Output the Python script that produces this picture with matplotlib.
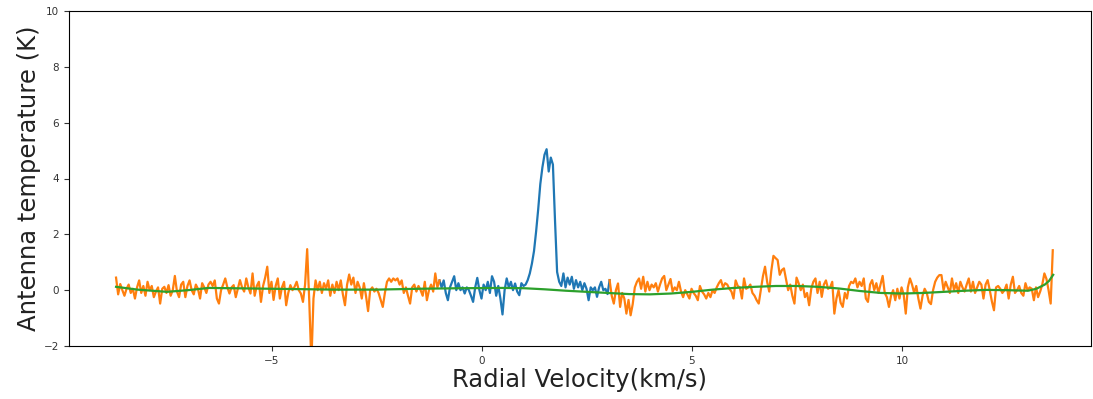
"""
Spectrum plot: antenna temperature against radial velocity,
line window in blue, off-line channels in orange, baseline fit in green.
"""

import numpy as np
import matplotlib
matplotlib.use('Agg')
import matplotlib.pyplot as plt

# Channel data, 0.05 km/s spacing
# left off-line part, -8.71 .. -1.01 km/s
orange_left_v = (-8.71, -1.01)
orange_left_K = [
    0.45, -0.15, 0.22, 0.0, -0.2, 0.05, 0.2, -0.1, 0.05, -0.3,
    0.1, 0.35, -0.1, 0.15, -0.2, 0.3, 0.0, 0.15, -0.25, -0.05,
    0.1, -0.48, 0.05, 0.12, -0.1, 0.18, -0.2, 0.0, 0.51, -0.05,
    -0.25, 0.2, 0.3, -0.25, 0.15, 0.35, 0.0, -0.15, 0.2, 0.05,
    -0.3, 0.25, 0.1, -0.1, 0.2,
    0.3, 0.15, 0.35, -0.3, -0.48, 0.0, 0.2, 0.42, 0.1, -0.12,
    0.1, 0.18, -0.25, 0.05, 0.36, 0.1, -0.05, 0.42, 0.1, -0.12,
    0.6, -0.2, 0.15, 0.3, -0.42, 0.15, 0.45, 0.84, -0.1, 0.3,
    -0.35, 0.15, 0.42, -0.3, 0.1, 0.3, -0.54, -0.1, 0.18, 0.0,
    0.12, 0.3, 0.0, -0.12, -0.42, 0.2, 1.47, -0.4, -2.6,
    -0.3, 0.35, 0.0, 0.3, -0.1, 0.25, 0.05, 0.35, -0.2, 0.2,
    -0.1, 0.3, 0.0, 0.35, -0.15, -0.54, 0.2, 0.56, 0.2, 0.45,
    -0.1, 0.3, 0.1, -0.3, 0.25, -0.2, -0.75, 0.0, 0.1, -0.05,
    0.05, -0.1, -0.35, -0.6, -0.1, 0.3, 0.42, 0.3, 0.42, 0.35,
    0.42, 0.2, 0.35, -0.1, 0.1, -0.2, -0.48, 0.1, 0.2, -0.05,
    0.15,
    0.0, -0.2, 0.3, -0.36, 0.0, 0.2, -0.05, 0.6, 0.1, 0.35,
]

# line window, -0.96 .. 2.99 km/s
blue_v = (-0.96, 2.99)
blue_K = [
    0.1, 0.35, -0.1, -0.36, 0.1, 0.3, 0.5, 0.0, 0.25, 0.0,
    0.1, -0.12, 0.1, 0.0, -0.2, -0.42, 0.1, 0.44, 0.0, -0.3,
    0.2, 0.0, 0.3, -0.1, 0.5, 0.3, -0.2, 0.15, -0.3, -0.87,
    0.0, 0.42, 0.1, 0.3, 0.0, 0.24, -0.05, -0.18, 0.25, 0.15,
    0.2, 0.36, 0.6, 0.95, 1.4, 2.1, 2.9, 3.8, 4.4, 4.85,
    5.05, 4.25, 4.75, 4.5, 2.5, 0.65, 0.3, 0.15, 0.6, 0.1,
    0.45, 0.2, 0.48, 0.05, 0.36, 0.1, 0.3, 0.0, 0.25, 0.05,
    -0.36, 0.1, 0.0, 0.1, -0.24, 0.1, 0.3, 0.0, 0.05, -0.14,
]

# right off-line part, 3.04 .. 13.59 km/s
orange_right_v = (3.04, 13.59)
orange_right_K = [
    0.36, -0.2, -0.48, 0.0, 0.24,
    -0.6, -0.1, -0.3, -0.84, -0.35, -0.9, -0.5, 0.1, 0.3, 0.42,
    0.05, 0.48, -0.05, 0.3, 0.0, 0.2, 0.1, 0.25, -0.05, 0.2,
    0.42, 0.51, 0.0, 0.2, 0.4, -0.05, 0.1, 0.0, 0.3, -0.05,
    -0.25, 0.0, -0.15, -0.3, 0.05, -0.1, -0.2, -0.36, 0.15, -0.05,
    -0.15, -0.3, -0.1, -0.25, 0.0, -0.1, 0.1, 0.25, 0.36, 0.1,
    0.25, 0.2, 0.05,
    -0.05, -0.3, 0.35, 0.15, 0.1, -0.3, 0.42, 0.05, 0.1, 0.2,
    -0.1, -0.2, -0.36, -0.48, 0.0, 0.5, 0.84, 0.3, -0.05, 0.7,
    1.23, 1.15, 1.08, 0.55, 0.72, 0.78, 0.4, 0.0, 0.2, -0.2,
    -0.48, 0.45, 0.25, 0.0, 0.2, -0.25, -0.1, -0.54, 0.05, 0.3,
    0.42, -0.1, 0.3, -0.24, 0.2, 0.35, 0.05, 0.1, 0.3, -0.84,
    -0.3, 0.0, -0.45, -0.6, -0.1, -0.3, 0.15, 0.3, 0.25, 0.42,
    0.1, 0.3, 0.15, 0.42, -0.3, -0.42, 0.2, 0.36, 0.0, 0.25,
    -0.1, 0.2, 0.51, -0.1, -0.25, -0.6, -0.2, 0.0, -0.36, 0.05,
    -0.3, 0.1, -0.15, -0.84, 0.1, 0.42, 0.2, -0.1, 0.15, -0.3,
    -0.66, -0.2, 0.05, -0.1, -0.42, -0.5, 0.0, 0.3, 0.45, 0.54,
    0.54, 0.0, 0.3, 0.1, -0.1, 0.42, 0.0, 0.25, -0.1, 0.3,
    0.1, -0.05, 0.2, 0.42, -0.05, 0.3, -0.1, 0.1, 0.3, 0.2,
    -0.3, 0.2, 0.36, 0.0, -0.4, -0.72, 0.1, 0.15, 0.05, -0.1,
    0.0, 0.2, -0.3, 0.2, 0.48, -0.1, 0.0, 0.15, -0.1, -0.2,
    0.25, 0.0, 0.1, 0.05, -0.36, 0.1, -0.25, -0.05, 0.2, 0.6,
    0.4, 0.0, -0.48, 1.43,
]

# baseline fit
baseline_v = [-8.71, -8.2, -7.5, -7.0, -6.5, -5.5, -4.5, -3.5, -2.5, -1.5,
              -0.5, 0.5, 1.0, 1.5, 2.0, 2.5, 3.0, 3.5, 4.0, 4.5,
              5.0, 5.5, 6.0, 6.5, 7.0, 7.5, 8.0, 8.5, 9.0, 9.5,
              10.0, 10.5, 11.0, 11.5, 12.0, 12.5, 13.0, 13.2, 13.4, 13.5, 13.6]
baseline_K = [0.12, 0.02, -0.06, 0.0, 0.08, 0.06, 0.04, 0.02, 0.02, 0.05,
              0.07, 0.08, 0.07, 0.03, -0.02, -0.06, -0.1, -0.14, -0.15, -0.12,
              -0.06, 0.02, 0.08, 0.12, 0.15, 0.15, 0.12, 0.06, -0.03, -0.1,
              -0.12, -0.1, -0.06, -0.02, 0.01, 0.0, -0.02, 0.05, 0.2, 0.33, 0.55]

y_ticks = [-2, 0, 2, 4, 6, 8, 10]
x_ticks = [-5, 0, 5, 10]


def channels(span, values):
    """Evenly spaced velocity axis for a list of channel values."""
    return np.linspace(span[0], span[1], len(values))


vl = channels(orange_left_v, orange_left_K)
vb = channels(blue_v, blue_K)
vr = channels(orange_right_v, orange_right_K)

# blue joined to its neighbours so the trace looks continuous
vb_full = np.concatenate([[vl[-1]], vb, [vr[0]]])
Kb_full = np.concatenate([[orange_left_K[-1]], blue_K, [orange_right_K[0]]])

fig = plt.figure(figsize=(10.93, 3.99), dpi=100)
ax = fig.add_axes([69 / 1093, 53 / 399, 1022 / 1093, 335 / 399])

ax.plot(vb_full, Kb_full, color='#1f77b4', linewidth=1.6)
ax.plot(vl, orange_left_K, color='#ff7f0e', linewidth=1.6)
ax.plot(vr, orange_right_K, color='#ff7f0e', linewidth=1.6)
ax.plot(baseline_v, baseline_K, color='#2ca02c', linewidth=1.6)

ax.set_xlim(-9.83, 14.5)
ax.set_ylim(-2, 10)
ax.set_yticks(y_ticks)
ax.set_xticks(x_ticks)
ax.tick_params(labelsize=7.5, colors='#333333')

ax.set_xlabel('Radial Velocity(km/s)', fontsize=17.5, color='#222222', labelpad=2)
ax.set_ylabel('Antenna temperature (K)', fontsize=17.5, color='#222222', labelpad=2)

fig.savefig('out.png', dpi=100)
